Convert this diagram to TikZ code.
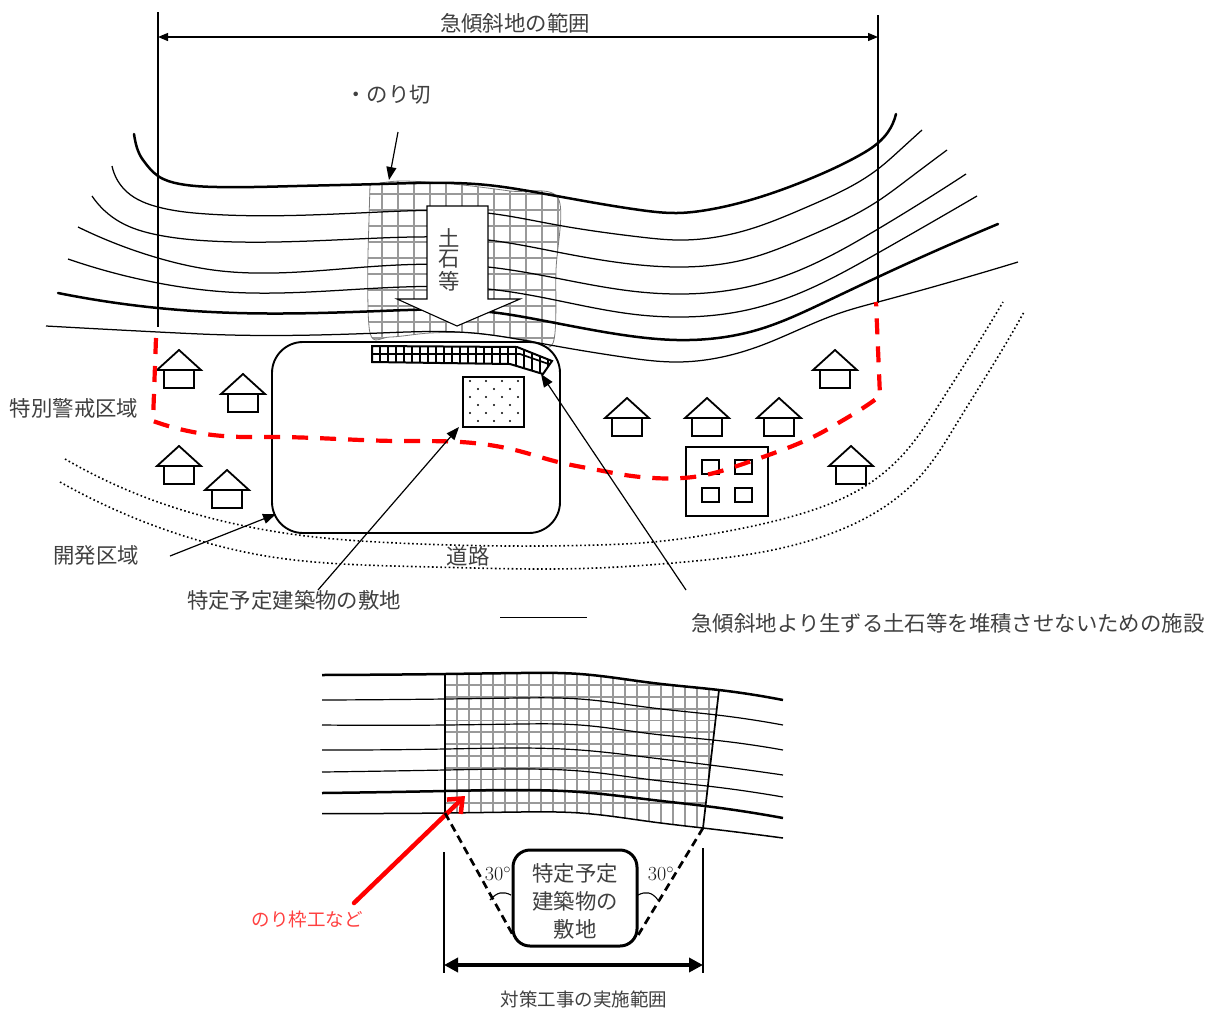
\documentclass[tikz,border=0pt]{standalone}
\usepackage{fontspec}
\usetikzlibrary{arrows.meta,hobby}
\newfontfamily\cjk{Noto Sans CJK JP}
\definecolor{txt}{gray}{0.25}
\definecolor{gridgray}{gray}{0.6}
\tikzset{
  jp/.style={font=\cjk\fontsize{21.4}{28}\selectfont,text=txt,inner sep=0pt,align=center},
  jps/.style={font=\cjk\fontsize{18.5}{24}\selectfont,text=txt,inner sep=0pt,align=center},
  thickc/.style={use Hobby shortcut,line width=2.5pt,line cap=round},
  thinc/.style={use Hobby shortcut,line width=1.25pt},
  road/.style={use Hobby shortcut,line width=1.6pt,dash pattern=on 1.6pt off 2.6pt},
  reddash/.style={use Hobby shortcut,red,line width=4.2pt,dash pattern=on 16pt off 12pt},
  leader/.style={line width=1.2pt,-{Triangle[length=13pt,width=10pt]}},
  bldg/.style={line width=1.8pt},
  gridline/.style={gridgray,line width=2.4pt},
  curvy/.style={smooth,tension=0.55},
  lowthin/.style={use Hobby shortcut,line width=1.2pt},
  lowthick/.style={use Hobby shortcut,line width=2.5pt},
}
\newcommand{\housemark}[2]{%
  \draw[bldg,line join=miter] (#1-22,#2+20) -- (#1,#2) -- (#1+22,#2+20) -- cycle;
  \draw[bldg] (#1-15,#2+20) rectangle (#1+15,#2+38);
}
\begin{document}
\begin{tikzpicture}[x=1pt,y=-1pt]
\useasboundingbox (0,0) rectangle (1207,1010);
\fill[white] (0,0) rectangle (1207,1010);

% upper grid
\begin{scope}
  \clip plot[curvy] coordinates {(370,185) (400,181) (453,184) (510,191) (558,198) (556,270) (553,343) (527,340) (473,333) (430,333) (390,337) (370,333) (368,253)} -- cycle;
  \foreach \vx in {382,398,...,558} \draw[gridline] (\vx,175) -- (\vx,345);
  \foreach \hy in {194,210,...,338} \draw[gridline] (365,\hy) -- (560,\hy);
\end{scope}
\draw[gridgray!80!black,line width=0.8pt] plot[curvy] coordinates {(370,185) (400,181) (453,184) (510,191) (558,198) (556,270) (553,343) (527,340) (473,333) (430,333) (390,337) (370,333) (368,253)} -- cycle;

% upper contours
\draw[thickc] (134,134) .. (143,160) .. (158,176) .. (180,184) .. (217,187) .. (297,186) .. (380,184) .. (487,185) .. (540,193) .. (590,202) .. (640,210) .. (677,213) .. (707,210) .. (757,198) .. (807,180) .. (860,155) .. (878,143) .. (888,132) .. (896,114);
\draw[thinc] (112,166) .. (127,192) .. (158,207) .. (207,214) .. (380,212) .. (487,213) .. (557,225) .. (640,237) .. (677,240) .. (747,230) .. (807,207) .. (878,169) .. (900,150) .. (922,130);
\draw[thinc] (92,196) .. (120,222) .. (158,235) .. (210,241) .. (380,238) .. (488,240) .. (557,252) .. (640,265) .. (677,267) .. (747,259) .. (807,237) .. (878,201) .. (907,180) .. (947,150);
\draw[thinc] (78,227) .. (158,258) .. (213,270) .. (380,266) .. (488,267) .. (540,275) .. (640,292) .. (677,294) .. (747,287) .. (807,267) .. (878,229) .. (966,174);
\draw[thinc] (68,259) .. (158,283) .. (227,292) .. (380,288) .. (488,289) .. (540,297) .. (640,315) .. (677,317) .. (747,310) .. (807,290) .. (878,253) .. (977,196);
\draw[thickc] (58,293) .. (158,308) .. (237,313) .. (380,311) .. (490,312) .. (540,320) .. (623,335) .. (677,340) .. (757,330) .. (823,303) .. (878,277) .. (998,224);
\draw[thinc] (46,326) .. (158,332) .. (230,335) .. (380,333) .. (473,333) .. (550,345) .. (623,357) .. (677,362) .. (757,347) .. (840,313) .. (878,302) .. (1018,262);

% range lines
\coordinate (rl) at (158,37);
\coordinate (rr) at (878,37);
\draw[line width=2pt] (158,12) -- (158,327);
\draw[line width=2pt] (878,15) -- (878,303);
\draw[line width=1.2pt,{Triangle[length=10pt,width=8pt]}-{Triangle[length=10pt,width=8pt]}] (rl) -- (rr);
\node[jp] at (515,23) {急傾斜地の範囲};
\node[jp] at (388,95) {・のり切};
\coordinate (kiriA) at (398,132);
\coordinate (kiriB) at (389,180);
\draw[leader] (kiriA) -- (kiriB);

% soil arrow
\draw[fill=white,line width=1.1pt,line join=miter] (427,206) -- (488,206) -- (488,299) -- (520,299) -- (457,326) -- (397,299) -- (427,299) -- cycle;
\node[jp] at (449,238) {土};
\node[jp] at (449,259) {石};
\node[jp] at (449,281) {等};

% development area
\draw[line width=1.9pt,rounded corners=31pt] (272,342) rectangle (560,533);

% barrier strip
\begin{scope}
  \clip (372,346) -- (517,347) -- (552,361) -- (543,374) -- (510,364) -- (372,362) -- cycle;
  \foreach \vx in {380,388,...,552} \draw[line width=1.7pt] (\vx,340) -- (\vx,380);
  \draw[line width=1.7pt] (370,354) -- (520,354) -- (560,368);
\end{scope}
\draw[line width=2pt,line join=miter] (372,346) -- (517,347) -- (552,361) -- (543,374) -- (510,364) -- (372,362) -- cycle;

% site
\draw[line width=2pt] (463,377) rectangle (524,427);
\foreach \i in {0,...,5} \foreach \j in {0,...,3} {
  \pgfmathsetmacro{\dx}{470+16*\j+(mod(\i,2)==1?8:0)}
  \pgfmathsetmacro{\dy}{381+8*\i}
  \ifdim\dx pt<522pt\fill (\dx,\dy) circle (1.1pt);\fi
}

% houses
\housemark{179}{350}
\housemark{243}{374}
\housemark{179}{446}
\housemark{227}{470}
\housemark{627}{398}
\housemark{707}{398}
\housemark{779}{398}
\housemark{835}{350}
\housemark{851}{446}
% building
\draw[bldg] (686,447) rectangle (768,516);
\draw[bldg] (702,460) rectangle (719,474);
\draw[bldg] (735,460) rectangle (752,474);
\draw[bldg] (702,488) rectangle (719,502);
\draw[bldg] (735,488) rectangle (752,502);

% road
\draw[road] (65,459) .. (147,498) .. (240,525) .. (306,536) .. (397,543) .. (597,545) .. (653,542) .. (723,532) .. (797,515) .. (867,485) .. (907,450) .. (940,403) .. (980,340) .. (1003,302);
\draw[road] (60,482) .. (147,523) .. (204,542) .. (272,557) .. (343,564) .. (433,567) .. (597,568) .. (673,563) .. (757,553) .. (840,530) .. (890,503) .. (923,473) .. (957,423) .. (1008,340) .. (1024,312);

% red boundary
\draw[reddash] (156,338) -- (153,421) .. (193,432) .. (243,437) .. (272,437) .. (397,441) .. (461,442) .. (519,451) .. (558,462) .. (598,470) .. (625,475) .. (653,478) .. (683,478) .. (710,474) .. (737,466) .. (763,457) .. (790,447) .. (817,435) .. (840,422) .. (863,408) .. (880,396) -- (876,302);

% leaders
\coordinate (devA) at (170,556);
\coordinate (devB) at (276,514);
\coordinate (siteA) at (318,590);
\coordinate (siteB) at (459,427);
\coordinate (fcA) at (686,590);
\coordinate (fcB) at (541,374);
\draw[leader] (devA) -- (devB);
\draw[leader] (siteA) -- (siteB);
\draw[leader] (fcA) -- (fcB);

\node[jp] at (74,408) {特別警戒区域};
\node[jp] at (96,555) {開発区域};
\node[jp] at (468,556) {道路};
\node[jp] at (294,600) {特定予定建築物の敷地};
\node[jp] at (948,623) {急傾斜地より生ずる土石等を堆積させないための施設};
\coordinate (ulA) at (500,617);
\coordinate (ulB) at (587,617);
\draw[line width=0.8pt] (ulA) -- (ulB);

% ===== lower figure =====
\begin{scope}
  \clip plot[curvy] coordinates {(445,674) (520,673) (580,674) (653,683) (719,690)} -- (703,828) -- plot[curvy] coordinates {(703,828) (653,822) (580,813) (520,812) (445,813)} -- cycle;
  \foreach \vx in {457,469,...,720} \draw[gridgray,line width=1.8pt] (\vx,665) -- (\vx,835);
  \foreach \hy in {0,...,10} \draw[gridgray,line width=1.8pt] (440,685+11.8*\hy) -- (725,685+11.8*\hy);
\end{scope}
\draw[line width=1.7pt] (445,674) -- (445,813);
\draw[line width=1.7pt] (719,690) -- (703,828);
\draw[lowthick] (322,675) .. (445,674) .. (520,673) .. (580,674) .. (653,683) .. (719,690) .. (783,700);
\draw[lowthin] (322,700) .. (445,699) .. (520,698) .. (580,699) .. (653,708) .. (717,715) .. (783,725);
\draw[lowthin] (322,725) .. (445,725) .. (520,724) .. (580,725) .. (653,734) .. (713,740) .. (783,750);
\draw[lowthin] (322,750) .. (445,749) .. (520,748) .. (580,750) .. (653,758) .. (710,765) .. (783,775);
\draw[lowthin] (322,772) .. (445,770) .. (520,769) .. (580,771) .. (653,780) .. (707,786) .. (783,797);
\draw[lowthick] (322,793) .. (445,791) .. (520,790) .. (580,792) .. (653,800) .. (705,806) .. (783,818);
\draw[use Hobby shortcut,line width=1.5pt] (322,813.5) .. (445,813) .. (520,812) .. (580,813) .. (653,822) .. (703,828) .. (783,838);

% red arrow
\coordinate (redA) at (354,903);
\coordinate (redB) at (465,796);
\draw[red,line width=4.5pt,line cap=round,-{Straight Barb[length=12pt,width=20pt,line width=4.5pt]}] (redA) -- (redB);
\node[jps,text=red!75!white] at (307,919) {のり枠工など};

% dashed 30 degree lines and site box
\node[draw,line width=3pt,rounded corners=17pt,minimum width=124pt,minimum height=96pt,inner sep=0pt,fill=white] (sitebox) at (575,898) {};
\draw[line width=2.7pt,dash pattern=on 8pt off 5pt] (445,813) -- (514,937);
\draw[line width=2.7pt,dash pattern=on 8pt off 5pt] (703,828) -- (637,937);
\node[jp] at (575,873) {特定予定};
\node[jp] at (575,901) {建築物の};
\node[jp] at (575,929) {敷地};
\node[font=\fontsize{20}{22}\selectfont,text=black!90,inner sep=0pt] at (498,874) {30$^\circ$};
\node[font=\fontsize{20}{22}\selectfont,text=black!90,inner sep=0pt] at (661,874) {30$^\circ$};
\draw[line width=1.1pt] (490,900) .. controls (497,892) and (503,891) .. (511,895);
\draw[line width=1.1pt] (638,895) .. controls (646,891) and (652,892) .. (658,900);

% extent
\coordinate (exL) at (444,965);
\coordinate (exR) at (703,965);
\draw[line width=1.6pt] (444,852) -- (444,973);
\draw[line width=1.6pt] (703,848) -- (703,973);
\draw[line width=3.7pt,{Triangle[length=14pt,width=14pt]}-{Triangle[length=14pt,width=14pt]}] (exL) -- (exR);
\node[jps] at (584,999) {対策工事の実施範囲};
\end{tikzpicture}
\end{document}
